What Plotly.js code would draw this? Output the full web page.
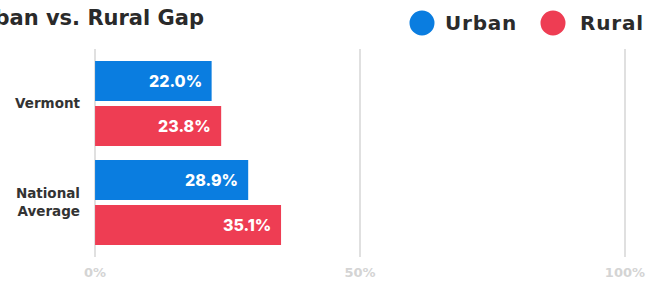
<!DOCTYPE html>
<html>
<head>
<meta charset="utf-8">
<script src="https://cdn.plot.ly/plotly-3.0.1.min.js"></script>
<style>
html,body{margin:0;padding:0;background:#fff;}
#chart{width:660px;height:281px;}
</style>
</head>
<body>
<div id="chart"></div>
<script>
const categories = ['Vermont', 'National<br>Average'];
const urbanValues = [22.0, 28.9];
const ruralValues = [23.8, 35.1];
const seriesNames = ['Urban', 'Rural'];
const tickValues = [0, 50, 100];
const tickLabels = ['0%', '50%', '100%'];
const chartTitle = 'Urban vs. Rural Gap';

const BLUE = '#0a7de0';
const RED = '#ee3d53';
const FONT = 'Inter, Lato, sans-serif';
const WIDE = '"DejaVu Sans", sans-serif';

const traces = [
  {type: 'bar', orientation: 'h', name: seriesNames[0], y: categories, x: urbanValues,
   marker: {color: BLUE}, hoverinfo: 'skip', showlegend: false},
  {type: 'bar', orientation: 'h', name: seriesNames[1], y: categories, x: ruralValues,
   marker: {color: RED}, hoverinfo: 'skip', showlegend: false}
];

const annotations = [];
categories.forEach((c, i) => {
  annotations.push({xref: 'x', yref: 'y', x: urbanValues[i], y: c, yshift: 22.5, xshift: -8,
    xanchor: 'right', yanchor: 'middle', showarrow: false, text: urbanValues[i].toFixed(1) + '%',
    font: {family: FONT, size: 16, color: '#fff', weight: 800}});
  annotations.push({xref: 'x', yref: 'y', x: ruralValues[i], y: c, yshift: -22.5, xshift: -8,
    xanchor: 'right', yanchor: 'middle', showarrow: false, text: ruralValues[i].toFixed(1) + '%',
    font: {family: FONT, size: 16, color: '#fff', weight: 800}});
});
// legend (drawn as circles + labels)
const legendItems = [
  {cx: 422, tx: 445, name: seriesNames[0], color: BLUE},
  {cx: 553, tx: 580, name: seriesNames[1], color: RED}
];
const L = 94, W = 532, T = 49, H = 208;
const X0 = -0.2, X1 = 100.2;
const shapes = [];
legendItems.forEach(it => {
  const px = (it.cx - L) / W, py = (T + H - 23) / H;
  shapes.push({type: 'circle', xref: 'paper', yref: 'paper', xsizemode: 'pixel', ysizemode: 'pixel',
    xanchor: px, yanchor: py, x0: -12.5, x1: 12.5, y0: -12.5, y1: 12.5,
    fillcolor: it.color, line: {width: 0}});
  annotations.push({xref: 'paper', yref: 'paper', x: (it.tx - L) / W, y: py, xanchor: 'left', yanchor: 'middle',
    showarrow: false, text: it.name, font: {family: WIDE, size: 20, color: '#2b2b2b', weight: 700}});
});

const layout = {
  width: 660, height: 281,
  margin: {l: L, r: 660 - L - W, t: T, b: 281 - T - H, pad: 0},
  paper_bgcolor: '#fff', plot_bgcolor: '#fff',
  title: {text: chartTitle, xref: 'container', yref: 'container', x: 204 / 660, xanchor: 'right',
    y: 1 - 17.5 / 281, yanchor: 'middle', font: {family: WIDE, size: 21, color: '#2a2a2a', weight: 700}},
  barmode: 'group', bargap: 0.091, bargroupgap: 0.111,
  xaxis: {range: [X0, X1], tickvals: tickValues, ticktext: tickLabels, showgrid: true,
    gridcolor: '#e0e0e0', gridwidth: 1.5, zeroline: false, showline: false, ticks: '',
    ticklabelstandoff: 6, tickfont: {family: WIDE, size: 13, color: '#d4d4d4', weight: 700}, fixedrange: true},
  yaxis: {type: 'category', autorange: false, range: [1.55, -0.55], showgrid: false, zeroline: false,
    showline: false, ticks: '', ticklabelstandoff: 13,
    tickfont: {family: WIDE, size: 13.5, color: '#333', weight: 700}, fixedrange: true},
  showlegend: false,
  shapes: shapes,
  annotations: annotations
};

Plotly.newPlot('chart', traces, layout, {displayModeBar: false, staticPlot: true}).then(() => {
  const anns = document.querySelectorAll('#chart .annotation-text');
  anns.forEach(t => { if (seriesNames.includes(t.textContent)) t.style.letterSpacing = '0.8px'; });
});
</script>
</body>
</html>
